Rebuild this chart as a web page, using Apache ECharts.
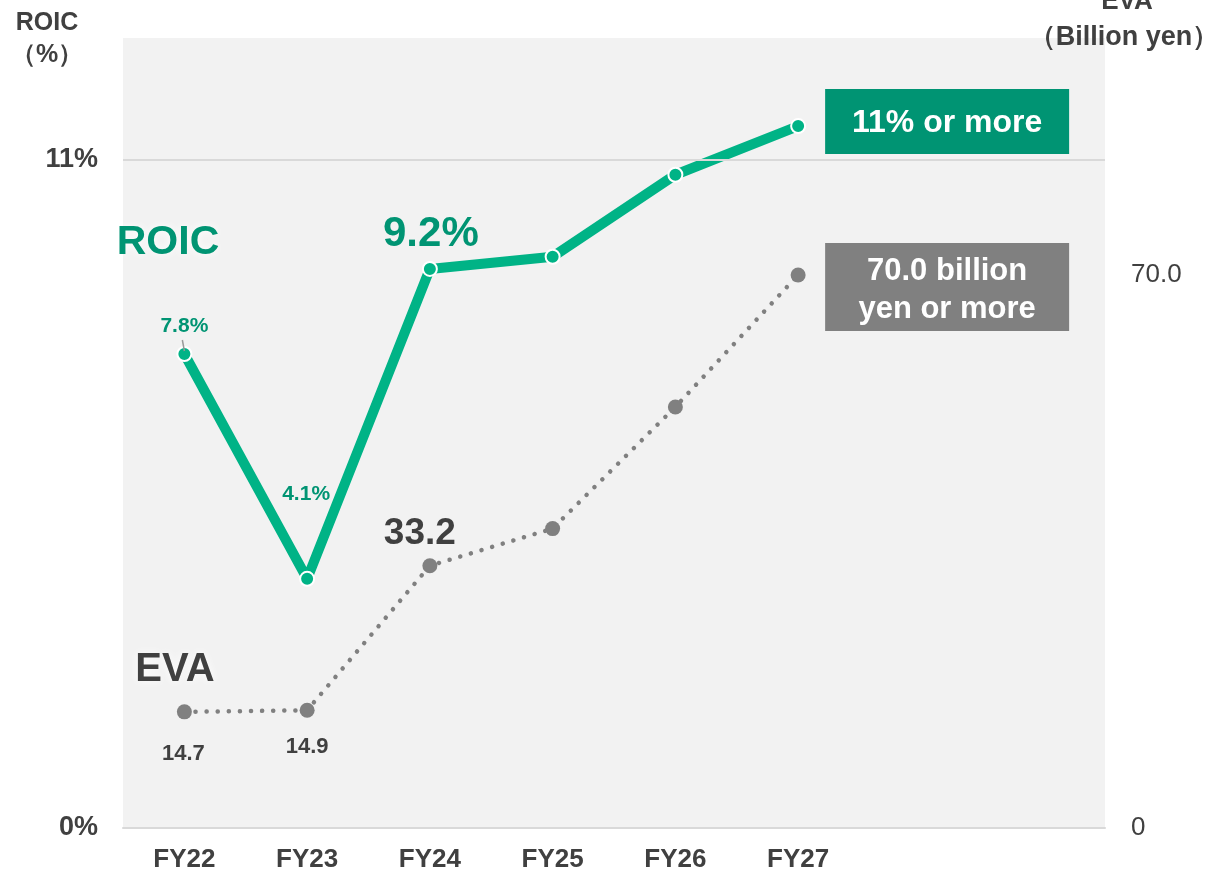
<!DOCTYPE html>
<html>
<head>
<meta charset="utf-8">
<script src="https://cdn.jsdelivr.net/npm/echarts@6/dist/echarts.min.js"></script>
<style>
  html, body { margin: 0; padding: 0; background: #fff; }
  #chart { width: 1213px; height: 873px; }
</style>
</head>
<body>
<div id="chart"></div>
<script>
// Fiscal years (two empty slots leave room for the target boxes)
const categories = ['FY22', 'FY23', 'FY24', 'FY25', 'FY26', 'FY27', '', ''];
// ROIC (%)
const roic = [7.8, 4.1, 9.2, 9.4, 10.75, 11.55];
// EVA (billion yen)
const eva = [14.7, 14.9, 33.2, 37.9, 53.3, 70.0];
const roicTicks = { 0: '0%', 11: '11%' };
const evaTicks = { 0: '0', 70: '70.0' };
const roicTarget = 11;

const FONT = "'Liberation Sans', Arial, sans-serif";
const GREEN = '#00b386';
const GREEN_DARK = '#009473';
const GREY = '#808080';
const TEXT = '#404040';

const chart = echarts.init(document.getElementById('chart'));

// per-point labels for ROIC
const pct = p => p.value.toFixed(1) + '%';
const roicLabels = {
  0: { show: true, formatter: pct, offset: [0, -4], fontSize: 21 },
  1: { show: true, formatter: pct, offset: [-1, -61], fontSize: 21 },
  2: { show: true, formatter: pct, offset: [1, -1], fontSize: 42 }
};
const evaLabels = {
  0: { show: true, position: 'bottom', offset: [-1, 19], fontSize: 22 },
  1: { show: true, position: 'bottom', offset: [0, 13], fontSize: 22 },
  2: { show: true, position: 'top', offset: [-10, -1], fontSize: 37 }
};

const option = {
  animation: false,
  textStyle: { fontFamily: FONT },
  grid: {
    left: 123, right: 108, top: 38, bottom: 45,
    show: true, backgroundColor: '#f2f2f2', borderWidth: 0
  },
  xAxis: {
    type: 'category',
    data: categories,
    boundaryGap: true,
    axisLine: { show: true, lineStyle: { color: '#d9d9d9', width: 2 } },
    axisTick: { show: false },
    axisLabel: { color: TEXT, fontSize: 26, fontWeight: 'bold', margin: 19, fontFamily: FONT }
  },
  yAxis: [
    {
      type: 'value', min: 0, max: 13, interval: 1,
      splitLine: { show: false },
      axisLine: { show: false }, axisTick: { show: false },
      axisLabel: {
        color: TEXT, fontSize: 27, fontWeight: 'bold', margin: 25, fontFamily: FONT,
        formatter: v => roicTicks[v] || ''
      }
    },
    {
      type: 'value', min: 0, max: 100, interval: 10, position: 'right',
      splitLine: { show: false },
      axisLine: { show: false }, axisTick: { show: false },
      axisLabel: {
        color: TEXT, fontSize: 26, margin: 26, fontFamily: FONT,
        formatter: v => evaTicks[v] || ''
      }
    }
  ],
  series: [
    {
      name: 'EVA',
      type: 'line',
      yAxisIndex: 1,
      data: eva.map((v, i) => ({
        value: v,
        label: evaLabels[i] ? Object.assign({ color: TEXT, fontWeight: 'bold', fontFamily: FONT }, evaLabels[i]) : { show: false }
      })),
      symbol: 'circle',
      symbolSize: 15,
      itemStyle: { color: GREY },
      lineStyle: { color: GREY, width: 4.5, type: [0.1, 11], cap: 'round' },
      z: 2
    },
    {
      name: 'ROIC',
      type: 'line',
      yAxisIndex: 0,
      data: roic.map((v, i) => ({
        value: v,
        label: roicLabels[i] ? Object.assign({ position: 'top', color: GREEN_DARK, fontWeight: 'bold', fontFamily: FONT }, roicLabels[i]) : { show: false }
      })),
      symbol: 'circle',
      symbolSize: 14,
      itemStyle: { color: GREEN, borderColor: '#fff', borderWidth: 2 },
      lineStyle: { color: GREEN, width: 10 },
      markLine: {
        silent: true,
        symbol: 'none',
        label: { show: false },
        lineStyle: { color: '#d9d9d9', width: 2, type: 'solid' },
        data: [{ yAxis: roicTarget }]
      },
      z: 3
    }
  ]
};

chart.setOption(option);

// annotations placed relative to the plotted points
const last = roic.length - 1;
const pR = chart.convertToPixel({ xAxisIndex: 0, yAxisIndex: 0 }, [last, roic[last]]);
const pE = chart.convertToPixel({ xAxisIndex: 0, yAxisIndex: 1 }, [last, eva[last]]);
const p0 = chart.convertToPixel({ xAxisIndex: 0, yAxisIndex: 0 }, [0, roic[0]]);
const boxX = pR[0] + 27;
const boxW = 244;
const glow = { textShadowColor: '#ffffff', textShadowBlur: 8 };
const centered = { align: 'center', verticalAlign: 'middle' };

chart.setOption({
  graphic: [
    // axis titles
    { type: 'text', x: 47, y: 23, style: Object.assign({ text: 'ROIC', font: "bold 25px " + FONT, fill: TEXT }, centered) },
    { type: 'text', x: 47, y: 55, style: Object.assign({ text: '（%）', font: "bold 25px " + FONT, fill: TEXT }, centered) },
    { type: 'text', x: 1127, y: 2, style: Object.assign({ text: 'EVA', font: "bold 26px " + FONT, fill: TEXT }, centered) },
    { type: 'text', x: 1124, y: 38, style: Object.assign({ text: '（Billion yen）', font: "bold 27px " + FONT, fill: TEXT }, centered) },
    // series names
    { type: 'text', x: 168, y: 243, style: Object.assign({ text: 'ROIC', font: "bold 41px " + FONT, fill: GREEN_DARK }, centered, glow), z: 10 },
    { type: 'text', x: 175, y: 670, style: Object.assign({ text: 'EVA', font: "bold 40px " + FONT, fill: TEXT }, centered, glow), z: 10 },
    // leader for the first ROIC label
    { type: 'line', shape: { x1: p0[0] - 2, y1: p0[1] - 14, x2: p0[0], y2: p0[1] - 3 }, style: { stroke: '#999', lineWidth: 1.5 }, z: 10 },
    // target boxes
    { type: 'rect', shape: { x: boxX, y: pR[1] - 37, width: boxW, height: 65 }, style: { fill: GREEN_DARK }, z: 10 },
    { type: 'text', x: boxX + boxW / 2, y: pR[1] - 3, style: Object.assign({ text: '11% or more', font: "bold 32px " + FONT, fill: '#fff' }, centered), z: 11 },
    { type: 'rect', shape: { x: boxX, y: pE[1] - 32, width: boxW, height: 88 }, style: { fill: GREY }, z: 10 },
    { type: 'text', x: boxX + boxW / 2, y: pE[1] + 15, style: Object.assign({ text: '70.0 billion\nyen or more', font: "bold 31px " + FONT, fill: '#fff', lineHeight: 38 }, centered), z: 11 }
  ]
});
</script>
</body>
</html>
